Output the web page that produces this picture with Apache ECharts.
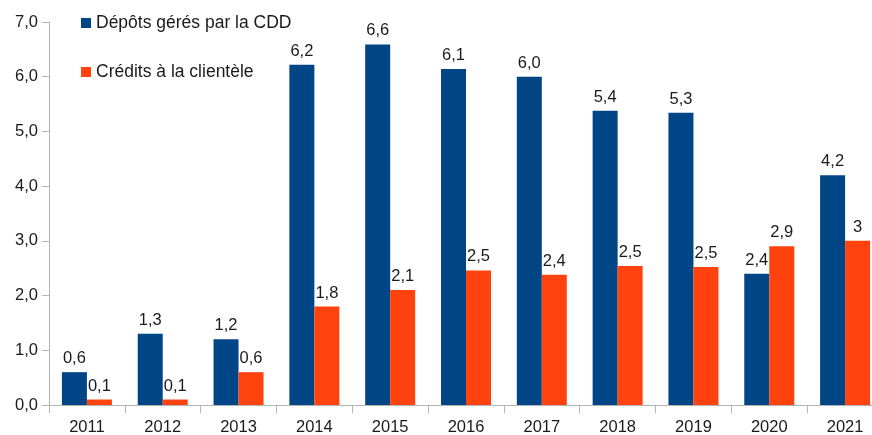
<!DOCTYPE html>
<html><head><meta charset="utf-8">
<script src="https://cdn.jsdelivr.net/npm/echarts@6/dist/echarts.min.js"></script>
<style>html,body{margin:0;padding:0;background:#fff;overflow:hidden;width:872px;height:435px}#c{width:883px;height:435px}</style>
</head><body><div id="c"></div>
<script>
const years = ['2011','2012','2013','2014','2015','2016','2017','2018','2019','2020','2021'];
const depots = [0.6,1.3,1.2,6.22,6.59,6.14,6.0,5.38,5.34,2.4,4.2];
const credits = [0.1,0.1,0.6,1.8,2.1,2.46,2.38,2.54,2.52,2.9,3];
const depotsName = 'Dépôts gérés par la CDD';
const creditsName = 'Crédits à la clientèle';

const chart = echarts.init(document.getElementById('c'), null, {renderer:'canvas'});
const font = 'Liberation Sans';
const txt = '#1a1a1a';
const fmt = v => (Number.isInteger(v) ? String(v) : v.toFixed(1)).replace('.', ',');
chart.setOption({
  animation:false,
  textStyle:{fontFamily:font},
  grid:{left:49, top:22, right:0, bottom:30, containLabel:false, outerBoundsMode:'none'},
  legend:{
    orient:'vertical', left:81, top:14, padding:0, itemGap:31, itemWidth:10, itemHeight:10,
    icon:'rect', textStyle:{fontFamily:font, fontSize:17.5, color:txt},
    data:[depotsName, creditsName]
  },
  xAxis:{
    type:'category', data:years,
    axisLine:{lineStyle:{color:'#b3b3b3'}},
    axisTick:{show:true, length:8, lineStyle:{color:'#b3b3b3'}},
    axisLabel:{fontFamily:font, fontSize:16.5, color:txt, margin:14}
  },
  yAxis:{
    type:'value', min:0, max:7, interval:1,
    splitLine:{show:false},
    axisLine:{show:true, lineStyle:{color:'#b3b3b3'}},
    axisTick:{show:true, length:7, lineStyle:{color:'#b3b3b3'}},
    axisLabel:{fontFamily:font, fontSize:16.5, color:txt, margin:11,
      formatter:v=>v.toFixed(1).replace('.',',')}
  },
  series:[
    {name:depotsName, type:'bar', data:depots, barWidth:25, barGap:'0%',
     itemStyle:{color:'#004586'},
     label:{show:true, position:'top', distance:5, fontFamily:font, fontSize:16.5, color:txt,
       formatter:p=>p.value.toFixed(1).replace('.',',')}},
    {name:creditsName, type:'bar', data:credits, barWidth:25, barGap:'0%',
     itemStyle:{color:'#ff420e'},
     label:{show:true, position:'top', distance:5, fontFamily:font, fontSize:16.5, color:txt,
       formatter:p=>fmt(p.value)}}
  ]
});
</script></body></html>
